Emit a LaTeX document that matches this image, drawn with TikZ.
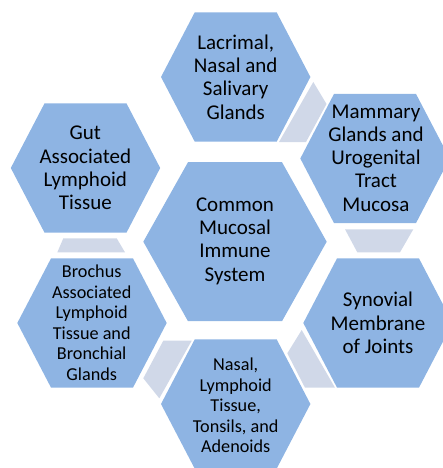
\documentclass[tikz,border=0pt]{standalone}
\usepackage{fontspec}
\setmainfont{Carlito}
\definecolor{hexblue}{HTML}{8EB4E3}
\definecolor{linkgray}{HTML}{D0D8E8}
\tikzset{
  hexfill/.style={fill=hexblue},
  linkfill/.style={fill=linkgray},
  bigtxt/.style={align=center, font=\fontsize{21}{23.3}\selectfont, inner sep=0pt, text=black},
  smalltxt/.style={align=center, font=\fontsize{18.2}{20.6}\selectfont, inner sep=0pt, text=black},
}
\newcommand\hexshape[4]{%
  \fill[hexfill, shift={#1}] (-#2,0) -- (-#3,-#4) -- (#3,-#4) -- (#2,0) -- (#3,#4) -- (-#3,#4) -- cycle;}
\begin{document}
\begin{tikzpicture}[x=1pt,y=-1pt]
\useasboundingbox (0,0) rectangle (443,468);
\clip (0,0) rectangle (443,468);
% centres
\coordinate (cLac) at (235.7,77);
\coordinate (cMam) at (375,158.5);
\coordinate (cSyn) at (378,323);
\coordinate (cNas) at (235.7,404);
\coordinate (cBro) at (92,323);
\coordinate (cGut) at (85.5,168);
\coordinate (cCen) at (235,241.7);
% hexagons
\hexshape{(cLac)}{74.7}{41}{64.6}
\hexshape{(cMam)}{74.7}{41}{64.6}
\hexshape{(cSyn)}{74.7}{41}{64.6}
\hexshape{(cNas)}{74.7}{41}{64.6}
\hexshape{(cBro)}{74.7}{41}{64.6}
\hexshape{(cGut)}{74.7}{41}{64.6}
\hexshape{(cCen)}{91.7}{47}{79.5}
% link pieces
\fill[linkfill] (313.3,82) -- (326.5,104) -- (306,142) -- (279,142) -- cycle;
\fill[linkfill] (345,229.3) -- (413.3,229.3) -- (400,252.3) -- (357.3,252.3) -- cycle;
\fill[linkfill] (301.7,330) -- (335,387.7) -- (305,387.7) -- (287.3,353.3) -- cycle;
\fill[linkfill] (163.3,340.7) -- (191.7,340.7) -- (159.3,398.3) -- (143.3,378.3) -- cycle;
\fill[linkfill] (63.3,238.3) -- (116.7,238.3) -- (125,252.3) -- (57.3,252.3) -- cycle;
% texts
\node[bigtxt] (lac) at (235.7,77) {Lacrimal,\\Nasal and\\Salivary\\Glands};
\node[bigtxt] (mam) at (376,158) {Mammary\\Glands and\\Urogenital\\Tract\\Mucosa};
\node[bigtxt] (syn) at (378,323) {Synovial\\Membrane\\of Joints};
\node[smalltxt] (nas) at (235.7,405.5) {Nasal,\\Lymphoid\\Tissue,\\Tonsils, and\\Adenoids};
\node[smalltxt] (bro) at (91.7,322.8) {Brochus\\Associated\\Lymphoid\\Tissue and\\Bronchial\\Glands};
\node[bigtxt] (gut) at (85.3,168) {Gut\\Associated\\Lymphoid\\Tissue};
\node[bigtxt] (cen) at (235,241) {Common\\Mucosal\\Immune\\System};
\end{tikzpicture}
\end{document}
